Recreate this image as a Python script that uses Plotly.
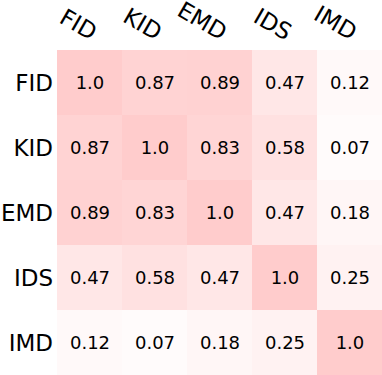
import plotly.graph_objects as go

metrics = ["FID", "KID", "EMD", "IDS", "IMD"]
corr = [
    [1.0, 0.87, 0.89, 0.47, 0.12],
    [0.87, 1.0, 0.83, 0.58, 0.07],
    [0.89, 0.83, 1.0, 0.47, 0.18],
    [0.47, 0.58, 0.47, 1.0, 0.25],
    [0.12, 0.07, 0.18, 0.25, 1.0],
]
cell_text = [["1.0" if v == 1.0 else "%.2f" % v for v in row] for row in corr]

fig = go.Figure(go.Heatmap(
    z=corr,
    x=metrics,
    y=metrics,
    text=cell_text,
    texttemplate="%{text}",
    textfont=dict(family="DejaVu Sans", size=18, color="black"),
    colorscale=[[0, "#ffffff"], [1, "#ffcccc"]],
    zmin=0, zmax=1,
    showscale=False,
))

fig.update_layout(
    width=382, height=375,
    margin=dict(l=57, r=0, t=50, b=0),
    paper_bgcolor="white", plot_bgcolor="white",
    font=dict(family="DejaVu Sans", size=23, color="black"),
)
fig.update_xaxes(side="top", tickangle=30, showgrid=False, zeroline=False,
                 ticks="", ticklabelstandoff=2, ticklabelshift=7, automargin=False)
fig.update_yaxes(autorange="reversed", showgrid=False, zeroline=False,
                 ticks="", ticklabelstandoff=3, automargin=False)

# drop the default 8px body margin so the figure sits flush in the window
fig.write_html("out.html", config={"displayModeBar": False},
               post_script="document.body.style.margin='0';")
